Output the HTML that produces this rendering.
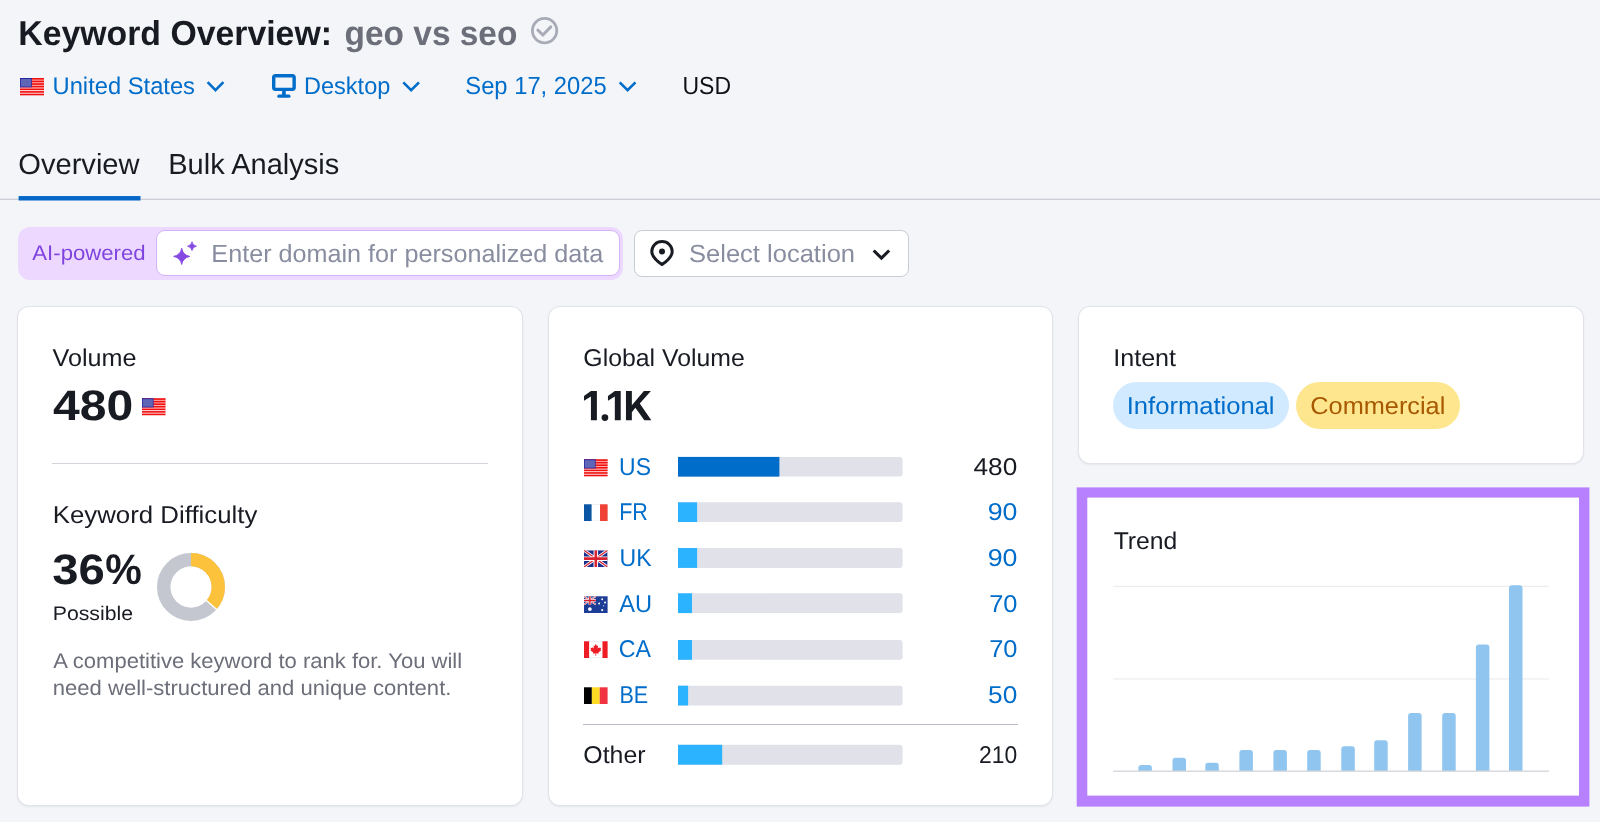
<!DOCTYPE html>
<html lang="en"><head><meta charset="utf-8"><title>Keyword Overview: geo vs seo</title>
<style>
html,body{margin:0;padding:0;}
body{background:#f4f5f9;font-family:"Liberation Sans",sans-serif;overflow:hidden;}
#page{position:relative;width:1600px;height:822px;overflow:hidden;background:#f4f5f9;}
.t{position:absolute;left:0;top:0;line-height:1;white-space:nowrap;transform-origin:0 0;text-rendering:geometricPrecision;}
.abs{position:absolute;}
svg{position:absolute;overflow:visible;}
.card{position:absolute;background:#fff;border-radius:11px;box-shadow:0 0 0 1px #e1e3ea,0 1px 3px rgba(25,27,35,.13);}
.track{position:absolute;left:678px;width:224.5px;height:19.8px;background:#e0e1e9;border-radius:0 3px 3px 0;overflow:hidden;}
.track i{display:block;height:100%;background:#2bb3ff;}
.flag{position:absolute;width:23.6px;height:17.3px;}
#txt{position:absolute;left:0;top:0;width:1600px;height:822px;will-change:transform;background:transparent;}

</style></head>
<body>
<div id="page">
<!-- header icons -->
<svg style="left:530.5px;top:17.4px" width="27.2" height="27.2" viewBox="0 0 27.2 27.2"><circle cx="13.6" cy="13.6" r="12.2" fill="none" stroke="#a8aab6" stroke-width="2.8"/><path d="M6.9 13.1 L11.9 18.0 L19.8 9.9" fill="none" stroke="#a8aab6" stroke-width="3" stroke-linecap="round" stroke-linejoin="miter"/></svg>

<svg class="flag" style="left:20px;top:78px;width:24px;height:17px" viewBox="0 0 24 17"><g>
  <rect width="24" height="17" fill="#ffe4e4"/>
  <rect x="11.8" width="12.2" height="9.2" fill="#ffb4b4"/>
  <g fill="#f01010"><rect y="0.00" width="24" height="1.63"/><rect y="2.62" width="24" height="1.63"/><rect y="5.23" width="24" height="1.63"/><rect y="7.85" width="24" height="1.63"/><rect y="10.46" width="24" height="1.63"/><rect y="13.08" width="24" height="1.63"/><rect y="15.69" width="24" height="1.63"/></g>
  <rect width="11.8" height="9.3" fill="#1f1fa0"/>
  <rect x="0.7" y="0.9" width="10.4" height="7.7" fill="#5f66b6"/>
 </g></svg>
<svg style="left:0;top:0" width="1600" height="120" viewBox="0 0 1600 120"><path d="M207.60 82.2 L215.50 90.25 L223.40 82.2" fill="none" stroke="#006dca" stroke-width="2.6" stroke-linecap="butt" stroke-linejoin="miter"/></svg>
<svg style="left:271.55px;top:73.8px" width="23.85" height="23.8" viewBox="0 0 23.85 23.8"><rect x="1.7" y="1.7" width="20.45" height="13.7" rx="1.8" fill="none" stroke="#006dca" stroke-width="3.4"/><rect x="10.1" y="17" width="3.65" height="4.2" fill="#006dca"/><rect x="5.3" y="20.6" width="13.25" height="3.1" rx="1.55" fill="#006dca"/></svg>
<svg style="left:0;top:0" width="1600" height="120" viewBox="0 0 1600 120"><path d="M403.30 82.3 L411.15 90.25 L419.00 82.3" fill="none" stroke="#006dca" stroke-width="2.6" stroke-linecap="butt" stroke-linejoin="miter"/></svg>
<svg style="left:0;top:0" width="1600" height="120" viewBox="0 0 1600 120"><path d="M619.70 82.3 L627.58 90.25 L635.46 82.3" fill="none" stroke="#006dca" stroke-width="2.6" stroke-linecap="butt" stroke-linejoin="miter"/></svg>

<!-- tabs -->
<svg style="left:0;top:190px" width="1600" height="14" viewBox="0 190 1600 14"><rect x="0" y="198.75" width="1600" height="1" fill="#c0c2ca"/></svg>
<svg style="left:0;top:190px" width="200" height="14" viewBox="0 190 200 14"><rect x="18.6" y="196.05" width="121.9" height="4.45" fill="#0467c8"/></svg>

<!-- AI row -->
<div class="abs" style="left:18.4px;top:227px;width:604.8px;height:52.6px;background:#edd9ff;border-radius:12px"></div>
<div class="abs" style="box-sizing:border-box;left:156.3px;top:230.3px;width:464.1px;height:46.2px;background:#fff;border:1.3px solid #d2b3fb;border-radius:9px"></div>
<svg style="left:172px;top:240px" width="27" height="26" viewBox="0 0 27 26"><path d="M9.7 8.299999999999999 Q10.95 15.149999999999999 17.799999999999997 16.4 Q10.95 17.65 9.7 24.5 Q8.45 17.65 1.5999999999999996 16.4 Q8.45 15.149999999999999 9.7 8.299999999999999Z" fill="#8649e1" stroke="#8649e1" stroke-width="0.9" stroke-linejoin="round"/><path d="M20.0 1.7999999999999998 Q20.7 5.5 24.4 6.2 Q20.7 6.9 20.0 10.600000000000001 Q19.3 6.9 15.6 6.2 Q19.3 5.5 20.0 1.7999999999999998Z" fill="#8649e1" stroke="#8649e1" stroke-width="0.8" stroke-linejoin="round"/></svg>
<div class="abs" style="box-sizing:border-box;left:634.2px;top:230px;width:275.3px;height:46.9px;background:#fff;border:1.2px solid #c9ccd4;border-radius:8px"></div>
<svg style="left:650.25px;top:239.6px" width="24" height="26" viewBox="0 0 24 26"><path d="M12 1.6 C6.3 1.6 1.8 6 1.8 11.4 C1.8 16.6 6.2 20.6 12 24.6 C17.8 20.6 22.2 16.6 22.2 11.4 C22.2 6 17.7 1.6 12 1.6Z" fill="none" stroke="#191b23" stroke-width="3" stroke-linejoin="round"/><circle cx="12" cy="11.55" r="3.0" fill="#191b23"/></svg>
<svg style="left:0;top:200px" width="1600" height="100" viewBox="0 200 1600 100"><path d="M873.7 250.5 L881.43 258.1 L889.15 250.5" fill="none" stroke="#191b23" stroke-width="3.1" stroke-linecap="butt" stroke-linejoin="miter"/></svg>

<!-- cards -->
<div class="card" style="left:18px;top:307px;width:504px;height:498px"></div>
<div class="card" style="left:549px;top:307px;width:503px;height:498px"></div>
<div class="card" style="left:1079px;top:307px;width:504px;height:155.5px"></div>
<svg style="left:0;top:0" width="1600" height="822" viewBox="0 0 1600 822"><rect x="1076.7" y="487.4" width="512.7" height="319.2" fill="#b780ff"/><rect x="1087.3" y="497.6" width="491.7" height="298" fill="#fff"/></svg>

<!-- card1 -->
<svg class="flag" style="left:142.4px;top:397.5px;width:23.5px;height:17.2px" viewBox="0 0 24 17"><g>
  <rect width="24" height="17" fill="#ffe4e4"/>
  <rect x="11.8" width="12.2" height="9.2" fill="#ffb4b4"/>
  <g fill="#f01010"><rect y="0.00" width="24" height="1.63"/><rect y="2.62" width="24" height="1.63"/><rect y="5.23" width="24" height="1.63"/><rect y="7.85" width="24" height="1.63"/><rect y="10.46" width="24" height="1.63"/><rect y="13.08" width="24" height="1.63"/><rect y="15.69" width="24" height="1.63"/></g>
  <rect width="11.8" height="9.3" fill="#1f1fa0"/>
  <rect x="0.7" y="0.9" width="10.4" height="7.7" fill="#5f66b6"/>
 </g></svg>
<div class="abs" style="left:52px;top:463px;width:436px;height:1.3px;background:#d3d5dc"></div>
<svg style="left:157.05px;top:552.8px" width="68" height="68" viewBox="0 0 68 68">
 <circle cx="34" cy="34" r="27.2" fill="none" stroke="#c4c7cf" stroke-width="13.6"/>
 <circle cx="34" cy="34" r="27.2" fill="none" stroke="#fdc23c" stroke-width="13.6" stroke-dasharray="61.9 200" transform="rotate(-90 34 34)"/>
 <path d="M34 34 L61.09 57.71" stroke="#fff" stroke-width="1.4"/>
 <circle cx="34" cy="34" r="20.4" fill="#fff"/>
</svg>

<svg style="left:575px;top:380px" width="90" height="50" viewBox="0 0 1480 822"><g fill="#191b23"><path d="M262 180 H360 V662 H262 V272 L148 342 V264 Z"/><circle cx="492" cy="618" r="55"/><path d="M655 180 H752 V662 H655 V272 L542 342 V264 Z"/><path d="M838 180 H935 V415 L1133 180 H1248 L1065 388 L1255 662 H1140 L993 458 L935 530 V662 H838 Z"/></g></svg>
<!-- card2 rows -->
<svg style="left:0;top:0" width="1600" height="822" viewBox="0 0 1600 822"><path d="M678.0 456.9 H899.6 Q902.6 456.9 902.6 459.9 V473.6 Q902.6 476.6 899.6 476.6 H678.0 Z" fill="#e0e1e9"/><rect x="678.0" y="456.9" width="101.4" height="19.7" fill="#006dca"/><path d="M678.0 502.3 H899.6 Q902.6 502.3 902.6 505.3 V519.0 Q902.6 522.0 899.6 522.0 H678.0 Z" fill="#e0e1e9"/><rect x="678.0" y="502.3" width="19.1" height="19.7" fill="#2bb3ff"/><path d="M678.0 548.0 H899.6 Q902.6 548.0 902.6 551.0 V564.9 Q902.6 567.9 899.6 567.9 H678.0 Z" fill="#e0e1e9"/><rect x="678.0" y="548.0" width="19.1" height="19.9" fill="#2bb3ff"/><path d="M678.0 593.3 H899.6 Q902.6 593.3 902.6 596.3 V610.1 Q902.6 613.1 899.6 613.1 H678.0 Z" fill="#e0e1e9"/><rect x="678.0" y="593.3" width="14.0" height="19.8" fill="#2bb3ff"/><path d="M678.0 640.0 H899.6 Q902.6 640.0 902.6 643.0 V656.8 Q902.6 659.8 899.6 659.8 H678.0 Z" fill="#e0e1e9"/><rect x="678.0" y="640.0" width="14.0" height="19.8" fill="#2bb3ff"/><path d="M678.0 685.7 H899.6 Q902.6 685.7 902.6 688.7 V702.5 Q902.6 705.5 899.6 705.5 H678.0 Z" fill="#e0e1e9"/><rect x="678.0" y="685.7" width="10.1" height="19.8" fill="#2bb3ff"/><path d="M678.0 744.8 H899.6 Q902.6 744.8 902.6 747.8 V761.7 Q902.6 764.7 899.6 764.7 H678.0 Z" fill="#e0e1e9"/><rect x="678.0" y="744.8" width="44.2" height="19.9" fill="#2bb3ff"/></svg>
<div class="abs" style="left:583px;top:723.8px;width:435px;height:1.5px;background:#b9bcc7"></div>

<svg class="flag" style="left:584.4px;top:458.6px" viewBox="0 0 24 17"><g>
  <rect width="24" height="17" fill="#ffe4e4"/>
  <rect x="11.8" width="12.2" height="9.2" fill="#ffb4b4"/>
  <g fill="#f01010"><rect y="0.00" width="24" height="1.63"/><rect y="2.62" width="24" height="1.63"/><rect y="5.23" width="24" height="1.63"/><rect y="7.85" width="24" height="1.63"/><rect y="10.46" width="24" height="1.63"/><rect y="13.08" width="24" height="1.63"/><rect y="15.69" width="24" height="1.63"/></g>
  <rect width="11.8" height="9.3" fill="#1f1fa0"/>
  <rect x="0.7" y="0.9" width="10.4" height="7.7" fill="#5f66b6"/>
 </g></svg>
<svg class="flag" style="left:584.4px;top:504.2px" viewBox="0 0 24 17"><rect width="24" height="17" fill="#e9e9ec"/><rect x="7.6" y="0.5" width="8.8" height="16" fill="#fff"/><rect width="7.7" height="17" fill="#0b55a5"/><rect x="16.3" width="7.7" height="17" fill="#ef4135"/></svg>
<svg class="flag" style="left:584.4px;top:550px" viewBox="0 0 24 17"><g>
  <clipPath id="ukc4"><rect width="24" height="17"/></clipPath>
  <g clip-path="url(#ukc4)">
  <rect width="24" height="17" fill="#1b2f8a"/>
  <path d="M0 0 L24 17 M24 0 L0 17" stroke="#fff" stroke-width="3"/>
  <path d="M0 0 L24 17 M24 0 L0 17" stroke="#d8222f" stroke-width="1.3"/>
  <path d="M12 0 V17 M0 8.5 H24" stroke="#fff" stroke-width="4.6"/>
  <path d="M12 0 V17 M0 8.5 H24" stroke="#d8222f" stroke-width="2.6"/>
  </g>
 </g></svg>
<svg class="flag" style="left:584.4px;top:595.6px" viewBox="0 0 24 17"><g>
  <rect width="24" height="17" fill="#1c3c95"/>
  <g>
   <path d="M0 0 L12 8.5 M12 0 L0 8.5" stroke="#fff" stroke-width="1.8"/>
   <path d="M0 0 L12 8.5 M12 0 L0 8.5" stroke="#d8222f" stroke-width=".7"/>
   <path d="M6 0 V8.5 M0 4.25 H12" stroke="#fff" stroke-width="2.8"/>
   <path d="M6 0 V8.5 M0 4.25 H12" stroke="#d8222f" stroke-width="1.5"/>
  </g>
  <g fill="#fff"><circle cx="6" cy="13" r="1.9"/><circle cx="18.5" cy="3" r="1"/><circle cx="15.4" cy="7.3" r="1"/><circle cx="21.4" cy="6.4" r="1"/><circle cx="18.5" cy="14" r="1.1"/><circle cx="20" cy="9.6" r=".6"/></g>
 </g></svg>
<svg class="flag" style="left:584.4px;top:641.4px" viewBox="0 0 24 17"><g>
  <rect width="24" height="17" fill="#e4e5e9"/><rect y="0.6" width="24" height="15.8" fill="#fff"/>
  <rect width="5.2" height="17" fill="#ee1c25"/><rect x="18.8" width="5.2" height="17" fill="#ee1c25"/>
  <path d="M12 2.6 L13.1 4.9 L14.4 4.4 L13.9 7.4 L15.4 6 L15.8 6.9 L17.4 6.6 L16.8 8.6 L17.6 9.1 L14.6 11.5 L14.9 12.6 L12.35 12.2 L12.4 14.6 L11.6 14.6 L11.65 12.2 L9.1 12.6 L9.4 11.5 L6.4 9.1 L7.2 8.6 L6.6 6.6 L8.2 6.9 L8.6 6 L10.1 7.4 L9.6 4.4 L10.9 4.9 Z" fill="#ee1c25"/>
 </g></svg>
<svg class="flag" style="left:584.4px;top:687.2px" viewBox="0 0 24 17"><rect width="8" height="17" fill="#000"/><rect x="8" width="8" height="17" fill="#fdda24"/><rect x="16" width="8" height="17" fill="#ef3340"/></svg>

<!-- card3 -->
<div class="abs" style="left:1113px;top:382px;width:175.8px;height:47px;border-radius:24px;background:#d1eaff"></div>
<div class="abs" style="left:1295.6px;top:382px;width:164px;height:47px;border-radius:24px;background:#fde68d"></div>

<!-- trend -->
<svg style="left:0;top:0" width="1600" height="822" viewBox="0 0 1600 822" id="bars"><rect x="1113.2" y="585.7" width="435.6" height="1.3" fill="#eceef2"/><rect x="1113.2" y="678.3" width="435.6" height="1.3" fill="#eceef2"/><path d="M1138.4 771 V768 Q1138.4 765 1141.4 765 H1148.9 Q1151.9 765 1151.9 768 V771 Z" fill="#8fc5ee"/><path d="M1172.5 771 V760.8 Q1172.5 757.8 1175.5 757.8 H1183.0 Q1186.0 757.8 1186.0 760.8 V771 Z" fill="#8fc5ee"/><path d="M1205.3 771 V765.8 Q1205.3 762.8 1208.3 762.8 H1215.8 Q1218.8 762.8 1218.8 765.8 V771 Z" fill="#8fc5ee"/><path d="M1239.4 771 V753 Q1239.4 750 1242.4 750 H1249.9 Q1252.9 750 1252.9 753 V771 Z" fill="#8fc5ee"/><path d="M1273.4 771 V753 Q1273.4 750 1276.4 750 H1283.9 Q1286.9 750 1286.9 753 V771 Z" fill="#8fc5ee"/><path d="M1307.2 771 V753 Q1307.2 750 1310.2 750 H1317.7 Q1320.7 750 1320.7 753 V771 Z" fill="#8fc5ee"/><path d="M1341.3 771 V749.3 Q1341.3 746.3 1344.3 746.3 H1351.8 Q1354.8 746.3 1354.8 749.3 V771 Z" fill="#8fc5ee"/><path d="M1374.2 771 V743.3 Q1374.2 740.3 1377.2 740.3 H1384.7 Q1387.7 740.3 1387.7 743.3 V771 Z" fill="#8fc5ee"/><path d="M1408.1 771 V716.1 Q1408.1 713.1 1411.1 713.1 H1418.6 Q1421.6 713.1 1421.6 716.1 V771 Z" fill="#8fc5ee"/><path d="M1442.2 771 V716.1 Q1442.2 713.1 1445.2 713.1 H1452.7 Q1455.7 713.1 1455.7 716.1 V771 Z" fill="#8fc5ee"/><path d="M1475.9 771 V647.4 Q1475.9 644.4 1478.9 644.4 H1486.4 Q1489.4 644.4 1489.4 647.4 V771 Z" fill="#8fc5ee"/><path d="M1509 771 V588.3 Q1509 585.3 1512 585.3 H1519.5 Q1522.5 585.3 1522.5 588.3 V771 Z" fill="#8fc5ee"/><rect x="1113.2" y="770.5" width="435.6" height="1.4" fill="#d5d7de"/></svg>


<div id="txt">
<span class="t" id="t1" style="transform:translate(18.25px,16.91px) scaleX(0.9775);font-size:34.60px;font-weight:700;color:#191b23">Keyword Overview:</span>
<span class="t" id="t2" style="transform:translate(344.59px,16.91px) scaleX(0.9665);font-size:34.60px;font-weight:700;color:#6c6e79">geo vs seo</span>
<span class="t" id="t3" style="transform:translate(52.54px,75.08px) scaleX(0.9886);font-size:24.00px;font-weight:400;color:#006dca">United States</span>
<span class="t" id="t4" style="transform:translate(304.04px,75.08px) scaleX(0.9799);font-size:24.00px;font-weight:400;color:#006dca">Desktop</span>
<span class="t" id="t5" style="transform:translate(465.31px,74.99px) scaleX(0.9623);font-size:24.70px;font-weight:400;color:#006dca">Sep 17, 2025</span>
<span class="t" id="t6" style="transform:translate(682.43px,74.99px) scaleX(0.9320);font-size:24.70px;font-weight:400;color:#101116">USD</span>
<span class="t" id="t7" style="transform:translate(18.25px,150.77px) scaleX(1.0008);font-size:29.10px;font-weight:400;color:#191b23">Overview</span>
<span class="t" id="t8" style="transform:translate(168.21px,151.07px) scaleX(0.9976);font-size:29.10px;font-weight:400;color:#191b23">Bulk Analysis</span>
<span class="t" id="t9" style="transform:translate(32.34px,242.74px) scaleX(1.0494);font-size:21.10px;font-weight:400;color:#7f43df">AI-powered</span>
<span class="t" id="t10" style="transform:translate(211.37px,242.91px) scaleX(1.0153);font-size:24.80px;font-weight:400;color:#898da0">Enter domain for personalized data</span>
<span class="t" id="t11" style="transform:translate(689.02px,242.91px) scaleX(1.0293);font-size:24.80px;font-weight:400;color:#898da0">Select location</span>
<span class="t" id="t12" style="transform:translate(52.55px,346.73px) scaleX(1.0363);font-size:24.30px;font-weight:400;color:#191b23">Volume</span>
<span class="t" id="t13" style="transform:translate(52.96px,385.44px) scaleX(1.1276);font-size:42.60px;font-weight:700;color:#191b23">480</span>
<span class="t" id="t14" style="transform:translate(52.70px,504.03px) scaleX(1.0624);font-size:24.30px;font-weight:400;color:#191b23">Keyword Difficulty</span>
<span class="t" id="t15" style="transform:translate(52.32px,549.14px) scaleX(1.1083);font-size:42.60px;font-weight:700;color:#191b23">36</span>
<span class="t" id="t15b" style="transform:translate(105.31px,549.14px) scaleX(0.9650);font-size:42.60px;font-weight:700;color:#191b23">%</span>
<span class="t" id="t16" style="transform:translate(52.73px,604.64px) scaleX(1.0739);font-size:19.80px;font-weight:400;color:#191b23">Possible</span>
<span class="t" id="t17" style="transform:translate(53.20px,651.15px) scaleX(1.0395);font-size:21.20px;font-weight:400;color:#6c6e79">A competitive keyword to rank for. You will</span>
<span class="t" id="t18" style="transform:translate(52.74px,677.85px) scaleX(1.0414);font-size:21.20px;font-weight:400;color:#6c6e79">need well-structured and unique content.</span>
<span class="t" id="t19" style="transform:translate(583.33px,346.73px) scaleX(1.0214);font-size:24.30px;font-weight:400;color:#191b23">Global Volume</span>
<span class="t" id="t21" style="transform:translate(583.29px,743.93px) scaleX(1.0247);font-size:24.30px;font-weight:400;color:#191b23">Other</span>
<span class="t" id="t22" style="transform:translate(979.06px,743.93px) scaleX(0.9414);font-size:24.30px;font-weight:400;color:#191b23">210</span>
<span class="t" id="t23" style="transform:translate(1113.19px,347.43px) scaleX(1.0345);font-size:24.30px;font-weight:400;color:#191b23">Intent</span>
<span class="t" id="t24" style="transform:translate(1126.77px,394.85px) scaleX(1.0480);font-size:24.40px;font-weight:400;color:#006dca">Informational</span>
<span class="t" id="t25" style="transform:translate(1310.28px,394.85px) scaleX(1.0380);font-size:24.40px;font-weight:400;color:#a75800">Commercial</span>
<span class="t" id="t26" style="transform:translate(1113.64px,530.03px) scaleX(1.0177);font-size:24.30px;font-weight:400;color:#191b23">Trend</span>
<span class="t" id="c0" style="transform:translate(619.11px,455.73px) scaleX(0.9448);font-size:24.30px;font-weight:400;color:#006dca">US</span>
<span class="t" id="v0" style="transform:translate(973.54px,455.73px) scaleX(1.0788);font-size:24.30px;font-weight:400;color:#191b23">480</span>
<span class="t" id="c1" style="transform:translate(619.17px,501.33px) scaleX(0.8879);font-size:24.30px;font-weight:400;color:#006dca">FR</span>
<span class="t" id="v1" style="transform:translate(987.70px,501.33px) scaleX(1.0984);font-size:24.30px;font-weight:400;color:#006dca">90</span>
<span class="t" id="c2" style="transform:translate(619.50px,547.43px) scaleX(0.9493);font-size:24.30px;font-weight:400;color:#006dca">UK</span>
<span class="t" id="v2" style="transform:translate(987.70px,547.43px) scaleX(1.0984);font-size:24.30px;font-weight:400;color:#006dca">90</span>
<span class="t" id="c3" style="transform:translate(619.26px,592.53px) scaleX(0.9730);font-size:24.30px;font-weight:400;color:#006dca">AU</span>
<span class="t" id="v3" style="transform:translate(989.13px,592.53px) scaleX(1.0459);font-size:24.30px;font-weight:400;color:#006dca">70</span>
<span class="t" id="c4" style="transform:translate(618.76px,638.13px) scaleX(0.9538);font-size:24.30px;font-weight:400;color:#006dca">CA</span>
<span class="t" id="v4" style="transform:translate(989.13px,638.13px) scaleX(1.0459);font-size:24.30px;font-weight:400;color:#006dca">70</span>
<span class="t" id="c5" style="transform:translate(619.46px,683.73px) scaleX(0.8855);font-size:24.30px;font-weight:400;color:#006dca">BE</span>
<span class="t" id="v5" style="transform:translate(988.04px,683.73px) scaleX(1.0815);font-size:24.30px;font-weight:400;color:#006dca">50</span>
</div>
</div>
</body></html>
